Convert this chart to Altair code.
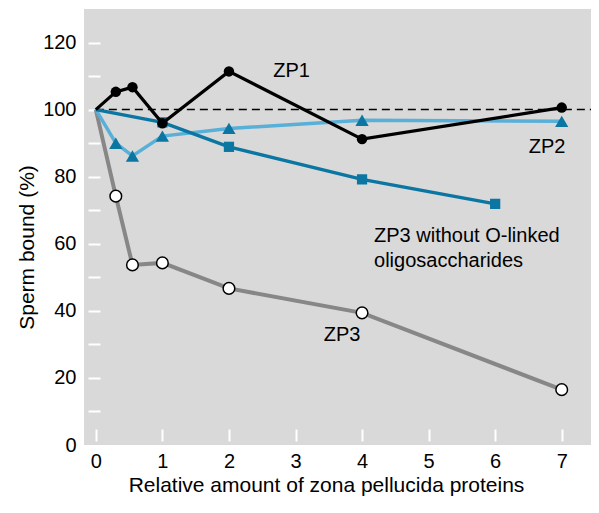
import altair as alt
import pandas as pd

# ---- data ----
dose_a = [0, 0.3, 0.55, 1, 2, 4, 7]
zp1 = [100, 105.3, 106.7, 95.9, 111.4, 91.2, 100.6]
zp2 = [100, 90.0, 86.2, 92.1, 94.4, 96.8, 96.5]
zp3 = [100, 74.2, 53.7, 54.3, 46.7, 39.4, 16.5]
dose_b = [0, 1, 2, 4, 6]
zp3_no_o = [100, 96.2, 88.9, 79.2, 71.9]

label_text = ["ZP1", "ZP2", "ZP3", "ZP3 without O-linked\noligosaccharides"]
label_x = [2.94, 6.78, 3.70, 4.18]
label_y = [111.4, 88.9, 32.7, 62.4]
label_align = ["center", "center", "center", "left"]

x_ticks = [0, 1, 2, 3, 4, 5, 6, 7]
y_ticks = [0, 10, 20, 30, 40, 50, 60, 70, 80, 90, 100, 110, 120]

W, H = 507, 436
FONT = "Liberation Sans"

df_zp1 = pd.DataFrame({"x": dose_a, "y": zp1})
df_zp2 = pd.DataFrame({"x": dose_a, "y": zp2})
df_zp3 = pd.DataFrame({"x": dose_a, "y": zp3})
df_no = pd.DataFrame({"x": dose_b, "y": zp3_no_o})
df_lab = pd.DataFrame({"t": label_text, "x": label_x, "y": label_y, "a": label_align})

xs = alt.Scale(domain=[-0.178, 7.44], nice=False, zero=False)
ys = alt.Scale(domain=[0, 130], nice=False, zero=False)

x_axis = alt.Axis(
    values=x_ticks, offset=-16, tickSize=12, tickWidth=2, tickColor="white",
    domain=False, grid=False, labelPadding=10, labelFontSize=20, labelFont=FONT,
    labelColor="black", title="Relative amount of zona pellucida proteins",
    titleFontSize=21, titleFont=FONT, titleFontWeight="normal", titleColor="black",
    titleX=242, titleY=62, titleBaseline="alphabetic", titleAlign="center",
)
y_axis = alt.Axis(
    values=y_ticks, offset=-16, tickSize=12, tickWidth=2,
    tickColor={"condition": {"test": "datum.value === 0", "value": "transparent"}, "value": "white"},
    labelExpr="datum.value % 20 === 0 ? datum.label : ''",
    domain=False, grid=False, labelPadding=12, labelFontSize=20, labelFont=FONT,
    labelColor="black", title="Sperm bound (%)",
    titleFontSize=21, titleFont=FONT, titleFontWeight="normal", titleColor="black",
    titleX=-67, titleY=238, titleBaseline="alphabetic", titleAlign="center", titleAngle=270,
)

def xe():
    return alt.X("x:Q", scale=xs, axis=x_axis)

def ye():
    return alt.Y("y:Q", scale=ys, axis=y_axis)

zp3_line = alt.Chart(df_zp3).mark_line(color="#878787", strokeWidth=4).encode(x=xe(), y=ye())

dash = alt.Chart(pd.DataFrame({"x": [0], "y": [100]})).mark_rule(
    color="black", strokeWidth=1.5, strokeDash=[8, 5]
).encode(x=xe(), x2=alt.value(W), y=ye())

zp3_pts = alt.Chart(df_zp3[df_zp3.x > 0]).mark_point(
    shape="circle", filled=True, fill="white", stroke="black", strokeWidth=1.5,
    size=135, opacity=1
).encode(x=xe(), y=ye())

zp2_line = alt.Chart(df_zp2).mark_line(color="#58afd7", strokeWidth=3.5).encode(x=xe(), y=ye())
zp2_pts = alt.Chart(df_zp2[df_zp2.x > 0]).mark_point(
    shape="triangle-up", filled=True, color="#0b76a2", size=175, opacity=1
).encode(x=xe(), y=ye())

no_line = alt.Chart(df_no).mark_line(color="#0b76a2", strokeWidth=3.5).encode(x=xe(), y=ye())
no_pts = alt.Chart(df_no[df_no.x > 0]).mark_point(
    shape="square", filled=True, color="#0b76a2", size=105, opacity=1
).encode(x=xe(), y=ye())

zp1_line = alt.Chart(df_zp1).mark_line(color="black", strokeWidth=3.2).encode(x=xe(), y=ye())
zp1_pts = alt.Chart(df_zp1[df_zp1.x > 0]).mark_point(
    shape="circle", filled=True, color="black", size=110, opacity=1
).encode(x=xe(), y=ye())

labels_c = alt.Chart(df_lab[df_lab.a == "center"]).mark_text(
    font=FONT, fontSize=20, color="black", align="center", baseline="middle"
).encode(x=xe(), y=ye(), text="t:N")
labels_l = alt.Chart(df_lab[df_lab.a == "left"]).mark_text(
    font=FONT, fontSize=20, color="black", align="left", baseline="middle",
    lineBreak="\n", lineHeight=25
).encode(x=xe(), y=ye(), text="t:N")

chart = alt.layer(
    zp3_line, dash, zp3_pts, zp2_line, zp2_pts, no_line, no_pts,
    zp1_line, zp1_pts, labels_c, labels_l
).properties(
    width=W, height=H,
    autosize=alt.AutoSizeParams(type="none"),
    padding={"left": 76, "top": 1, "right": 0, "bottom": 56},
    background="white",
).configure_view(fill="#d9d9d9", stroke=None)

chart.save("out.html", embed_options={"renderer": "svg", "actions": False})
